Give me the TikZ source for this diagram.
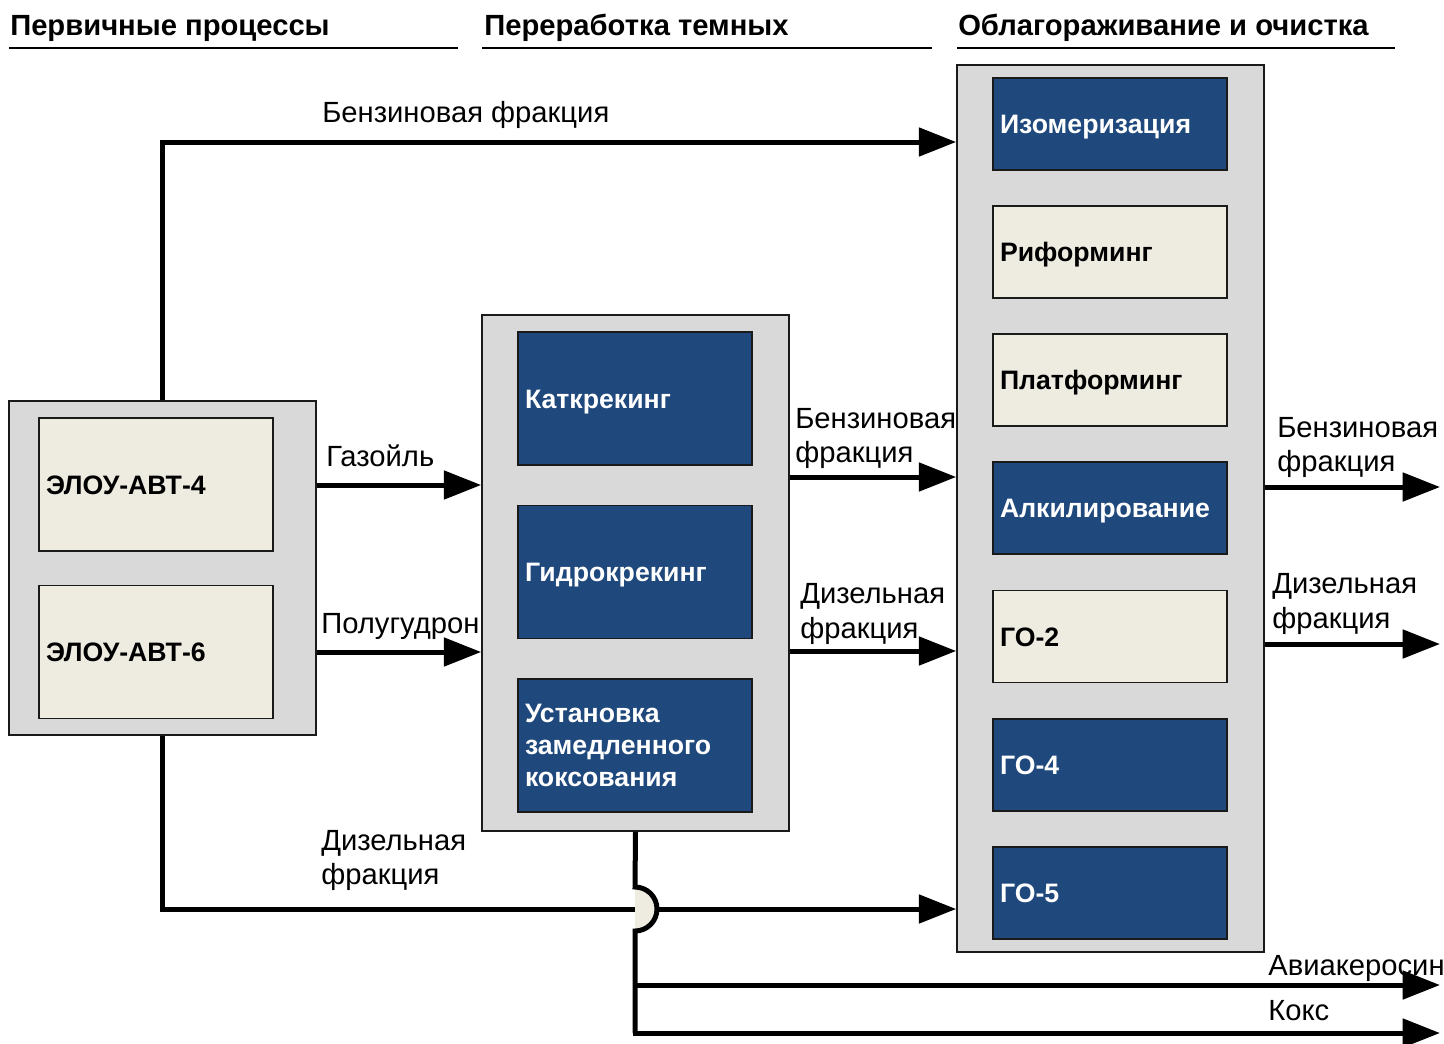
\documentclass[tikz,border=0pt]{standalone}
\usepackage{fontspec}
\setmainfont{Liberation Sans}
\usetikzlibrary{arrows.meta}
\definecolor{cgray}{HTML}{D9D9D9}
\definecolor{cbeige}{HTML}{EEEBE1}
\definecolor{cblue}{HTML}{1F487C}
\definecolor{cline}{HTML}{1A1A1A}
\tikzset{
  container/.style={draw=cline, line width=1.2pt, fill=cgray, minimum width=230.25pt, inner sep=0pt},
  unitbox/.style={draw=cline, line width=1pt, minimum width=175.5pt, text width=165pt, align=left, inner sep=0pt, font=\fontsize{20pt}{24pt}\selectfont\bfseries},
  oneline/.style={text height=14.4pt, text depth=0pt},
  lightbox/.style={unitbox, fill=cbeige, text=black},
  darkbox/.style={unitbox, fill=cblue, text=white},
  tallbox/.style={minimum height=99.75pt},
  shortbox/.style={minimum height=69pt},
  flow/.style={line width=3.75pt, -{Triangle[length=28pt,width=21pt]}},
  plainflow/.style={line width=3.75pt},
  lbl/.style={inner sep=0pt, font=\fontsize{21.9pt}{26pt}\selectfont, align=left},
  hdr/.style={inner sep=0pt, anchor=base west, font=\fontsize{21.9pt}{24pt}\selectfont\bfseries},
  hline/.style={line width=1.5pt}
}
\begin{document}
\begin{tikzpicture}[x=0.75pt,y=-0.75pt]
\useasboundingbox (0,0) rectangle (1444,1043);
% headers
\node[hdr] (h1) at (10,35) {Первичные процессы};
\node[hdr] (h2) at (484,35) {Переработка темных};
\node[hdr] (h3) at (958,35) {Облагораживание и очистка};
\draw[hline] (9,48) -- (458,48);
\draw[hline] (482,48) -- (932,48);
\draw[hline] (957,48) -- (1395,48);
% containers
\node[container, minimum height=250.5pt] (lc) at (162.5,568) {};
\node[container, minimum height=387pt] (mc) at (635.5,573) {};
\node[container, minimum height=665.25pt] (rc) at (1110.5,508.5) {};
% left units
\node[lightbox, tallbox, oneline] (a4) at (156,484.5) {ЭЛОУ-АВТ-4};
\node[lightbox, tallbox, oneline] (a6) at (156,652) {ЭЛОУ-АВТ-6};
% middle units
\node[darkbox, tallbox, oneline] (kk) at (635,398.5) {Каткрекинг};
\node[darkbox, tallbox, oneline] (gk) at (635,572) {Гидрокрекинг};
\node[darkbox, tallbox] (uzk) at (635,745.5) {Установка\\замедленного\\коксования};
% right units
\node[darkbox, shortbox, oneline] (iz) at (1110,124) {Изомеризация};
\node[lightbox, shortbox, oneline] (rf) at (1110,252) {Риформинг};
\node[lightbox, shortbox, oneline] (pf) at (1110,380) {Платформинг};
\node[darkbox, shortbox, oneline] (al) at (1110,508) {Алкилирование};
\node[lightbox, shortbox, oneline] (go2) at (1110,636.5) {ГО-2};
\node[darkbox, shortbox, oneline] (go4) at (1110,765) {ГО-4};
\node[darkbox, shortbox, oneline] (go5) at (1110,893) {ГО-5};
% connectors
\draw[flow] (lc.north) |- (rc.west |- 0,142);
\draw[flow] (lc.east |- 0,485) -- (mc.west |- 0,485);
\draw[flow] (lc.east |- 0,652) -- (mc.west |- 0,652);
\draw[flow] (mc.east |- 0,477) -- (rc.west |- 0,477);
\draw[flow] (mc.east |- 0,651) -- (rc.west |- 0,651);
\draw[flow] (lc.south) |- (rc.west |- 0,909);
\coordinate (bt) at (635,887);
\coordinate (bb) at (635,931);
\fill[cbeige] (bt) arc (-90:90:22) -- cycle;
\coordinate (o1) at (1440,487);
\coordinate (o2) at (1440,644);
\coordinate (o3) at (1440,985);
\coordinate (o4) at (1440,1033);
\draw[plainflow] (mc.south) -- (bt) arc (-90:90:22) -- (635,1033);
\draw[flow] (635,985) -- (o3);
\draw[flow] (635,1031.1) |- (o4);
\draw[flow] (rc.east |- o1) -- (o1);
\draw[flow] (rc.east |- o2) -- (o2);
% labels
\node[lbl, anchor=base west] (l1) at (322,122) {Бензиновая фракция};
\node[lbl, anchor=base west] (l2) at (326,466) {Газойль};
\node[lbl, anchor=base west] (l3) at (321,633) {Полугудрон};
\node[lbl, anchor=base west] (l4a) at (795,428) {Бензиновая};
\node[lbl, anchor=base west] (l4b) at (795,462) {фракция};
\node[lbl, anchor=base west] (l5a) at (800,603) {Дизельная};
\node[lbl, anchor=base west] (l5b) at (800,638) {фракция};
\node[lbl, anchor=base west] (l6a) at (321,850) {Дизельная};
\node[lbl, anchor=base west] (l6b) at (321,884) {фракция};
\node[lbl, anchor=base west] (l7a) at (1277,437) {Бензиновая};
\node[lbl, anchor=base west] (l7b) at (1277,471) {фракция};
\node[lbl, anchor=base west] (l8a) at (1272,593) {Дизельная};
\node[lbl, anchor=base west] (l8b) at (1272,628) {фракция};
\node[lbl, anchor=base west] (l9) at (1268,975) {Авиакеросин};
\node[lbl, anchor=base west] (l10) at (1268,1020) {Кокс};
\end{tikzpicture}
\end{document}
